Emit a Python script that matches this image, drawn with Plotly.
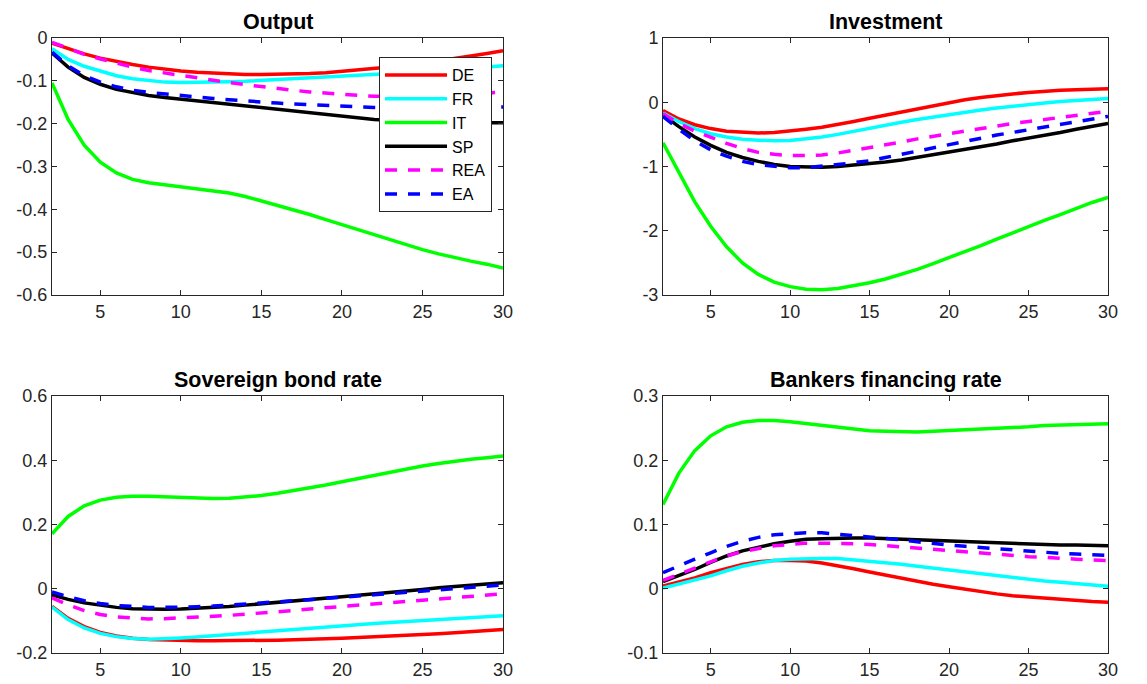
import plotly.graph_objects as go

periods = list(range(2, 31))
series_names = ["DE", "FR", "IT", "SP", "REA", "EA"]
colors = {"DE": "#ff0000", "FR": "#00ffff", "IT": "#00ff00", "SP": "#000000", "REA": "#ff00ff", "EA": "#0000ff"}
dashes = {"DE": "solid", "FR": "solid", "IT": "solid", "SP": "solid", "REA": "12px,11px", "EA": "12px,11px"}

titles = ["Output", "Investment", "Sovereign bond rate", "Bankers financing rate"]

# Output
out_DE = [-0.012, -0.025, -0.037, -0.047, -0.055, -0.062, -0.068, -0.073, -0.077, -0.080, -0.082, -0.084, -0.085, -0.085,
          -0.085, -0.084, -0.083, -0.081, -0.078, -0.075, -0.072, -0.068, -0.064, -0.059, -0.054, -0.048, -0.042, -0.036, -0.030]
out_FR = [-0.025, -0.050, -0.066, -0.078, -0.088, -0.095, -0.100, -0.103, -0.104, -0.104, -0.103, -0.102, -0.101, -0.099,
          -0.098, -0.096, -0.094, -0.092, -0.090, -0.088, -0.086, -0.084, -0.081, -0.079, -0.077, -0.074, -0.071, -0.068, -0.065]
out_IT = [-0.105, -0.190, -0.250, -0.290, -0.315, -0.330, -0.338, -0.343, -0.347, -0.351, -0.356, -0.362, -0.370, -0.380,
          -0.390, -0.400, -0.412, -0.424, -0.436, -0.448, -0.460, -0.472, -0.483, -0.494, -0.504, -0.513, -0.521, -0.528, -0.537]
out_SP = [-0.035, -0.068, -0.092, -0.108, -0.120, -0.128, -0.134, -0.139, -0.143, -0.147, -0.151, -0.155, -0.159, -0.163,
          -0.167, -0.171, -0.175, -0.179, -0.183, -0.187, -0.190, -0.192, -0.194, -0.196, -0.197, -0.198, -0.198, -0.198, -0.198]
out_REA = [-0.010, -0.025, -0.038, -0.049, -0.059, -0.068, -0.076, -0.082, -0.088, -0.094, -0.099, -0.104, -0.109, -0.114,
           -0.118, -0.122, -0.126, -0.129, -0.132, -0.134, -0.136, -0.137, -0.137, -0.137, -0.136, -0.134, -0.132, -0.129, -0.126]
out_EA = [-0.033, -0.065, -0.088, -0.103, -0.114, -0.122, -0.127, -0.131, -0.135, -0.138, -0.141, -0.144, -0.147, -0.150,
          -0.152, -0.154, -0.156, -0.158, -0.160, -0.161, -0.162, -0.163, -0.164, -0.164, -0.164, -0.164, -0.163, -0.162, -0.161]

# Investment
inv_DE = [-0.13, -0.26, -0.35, -0.41, -0.45, -0.47, -0.48, -0.47, -0.45, -0.42, -0.39, -0.35, -0.30, -0.25,
          -0.20, -0.15, -0.10, -0.05, 0.00, 0.04, 0.075, 0.105, 0.13, 0.15, 0.17, 0.185, 0.195, 0.205, 0.21]
inv_FR = [-0.17, -0.30, -0.41, -0.49, -0.54, -0.575, -0.59, -0.60, -0.595, -0.57, -0.54, -0.50, -0.45, -0.40,
          -0.36, -0.31, -0.27, -0.23, -0.19, -0.15, -0.12, -0.09, -0.06, -0.03, -0.01, 0.01, 0.03, 0.045, 0.06]
inv_IT = [-0.63, -1.10, -1.55, -1.93, -2.25, -2.50, -2.68, -2.80, -2.87, -2.91, -2.92, -2.90, -2.86, -2.81,
          -2.75, -2.68, -2.60, -2.51, -2.42, -2.32, -2.23, -2.13, -2.03, -1.94, -1.84, -1.75, -1.65, -1.56, -1.48]
inv_SP = [-0.20, -0.38, -0.54, -0.67, -0.78, -0.86, -0.92, -0.97, -1.00, -1.01, -1.01, -1.00, -0.98, -0.96,
          -0.93, -0.90, -0.86, -0.82, -0.78, -0.74, -0.70, -0.65, -0.60, -0.56, -0.51, -0.47, -0.42, -0.37, -0.33]
inv_REA = [-0.18, -0.33, -0.45, -0.55, -0.64, -0.72, -0.78, -0.81, -0.83, -0.83, -0.82, -0.79, -0.75, -0.71,
           -0.66, -0.62, -0.57, -0.53, -0.48, -0.44, -0.40, -0.37, -0.33, -0.30, -0.27, -0.23, -0.20, -0.17, -0.14]
inv_EA = [-0.22, -0.42, -0.60, -0.74, -0.84, -0.92, -0.97, -1.00, -1.02, -1.02, -1.00, -0.97, -0.94, -0.91,
          -0.86, -0.81, -0.75, -0.70, -0.65, -0.60, -0.56, -0.51, -0.47, -0.43, -0.39, -0.35, -0.30, -0.26, -0.22]

# Sovereign bond rate
sov_DE = [-0.055, -0.092, -0.118, -0.136, -0.147, -0.154, -0.158, -0.160, -0.161, -0.162, -0.162, -0.162, -0.161, -0.161,
          -0.160, -0.159, -0.158, -0.156, -0.154, -0.152, -0.150, -0.148, -0.145, -0.143, -0.140, -0.137, -0.134, -0.131, -0.127]
sov_FR = [-0.057, -0.096, -0.122, -0.139, -0.149, -0.155, -0.157, -0.156, -0.153, -0.150, -0.146, -0.142, -0.138, -0.134,
          -0.130, -0.126, -0.122, -0.118, -0.114, -0.111, -0.108, -0.105, -0.102, -0.099, -0.096, -0.093, -0.090, -0.087, -0.084]
sov_IT = [0.171, 0.225, 0.258, 0.276, 0.285, 0.288, 0.288, 0.286, 0.284, 0.282, 0.281, 0.282, 0.285, 0.290,
          0.297, 0.305, 0.314, 0.323, 0.333, 0.343, 0.353, 0.363, 0.373, 0.382, 0.390, 0.397, 0.403, 0.408, 0.413]
sov_SP = [-0.019, -0.033, -0.044, -0.052, -0.058, -0.062, -0.064, -0.064, -0.063, -0.061, -0.058, -0.055, -0.051, -0.047,
          -0.043, -0.038, -0.034, -0.029, -0.025, -0.020, -0.016, -0.011, -0.007, -0.002, 0.003, 0.007, 0.011, 0.015, 0.019]
sov_REA = [-0.028, -0.050, -0.068, -0.080, -0.088, -0.092, -0.094, -0.093, -0.091, -0.089, -0.086, -0.083, -0.079, -0.076,
           -0.072, -0.068, -0.063, -0.059, -0.055, -0.051, -0.047, -0.043, -0.040, -0.036, -0.032, -0.028, -0.024, -0.020, -0.016]
sov_EA = [-0.010, -0.025, -0.037, -0.046, -0.052, -0.056, -0.058, -0.058, -0.058, -0.056, -0.054, -0.051, -0.048, -0.045,
          -0.042, -0.038, -0.034, -0.030, -0.027, -0.023, -0.019, -0.015, -0.011, -0.008, -0.004, 0.000, 0.004, 0.008, 0.012]

# Bankers financing rate
bank_DE = [0.004, 0.010, 0.017, 0.025, 0.032, 0.038, 0.042, 0.044, 0.044, 0.043, 0.040, 0.036, 0.031, 0.026,
           0.021, 0.016, 0.011, 0.007, 0.003, -0.001, -0.005, -0.008, -0.011, -0.013, -0.015, -0.017, -0.019, -0.020, -0.021]
bank_FR = [0.001, 0.007, 0.013, 0.020, 0.028, 0.035, 0.040, 0.044, 0.046, 0.047, 0.047, 0.047, 0.045, 0.043,
           0.041, 0.038, 0.035, 0.032, 0.029, 0.026, 0.023, 0.020, 0.017, 0.015, 0.012, 0.010, 0.008, 0.006, 0.004]
bank_IT = [0.131, 0.180, 0.215, 0.238, 0.252, 0.259, 0.262, 0.262, 0.260, 0.257, 0.254, 0.251, 0.248, 0.246,
           0.245, 0.244, 0.244, 0.245, 0.246, 0.247, 0.248, 0.250, 0.251, 0.252, 0.254, 0.255, 0.256, 0.257, 0.257]
bank_SP = [0.011, 0.020, 0.030, 0.041, 0.051, 0.059, 0.065, 0.070, 0.074, 0.077, 0.078, 0.079, 0.079, 0.079,
           0.078, 0.077, 0.076, 0.075, 0.074, 0.073, 0.072, 0.071, 0.070, 0.070, 0.069, 0.068, 0.068, 0.067, 0.067]
bank_REA = [0.013, 0.022, 0.032, 0.042, 0.051, 0.058, 0.063, 0.067, 0.069, 0.071, 0.071, 0.071, 0.070, 0.069,
            0.067, 0.066, 0.064, 0.062, 0.060, 0.058, 0.056, 0.054, 0.052, 0.050, 0.049, 0.047, 0.046, 0.045, 0.044]
bank_EA = [0.025, 0.036, 0.046, 0.056, 0.066, 0.074, 0.080, 0.084, 0.086, 0.087, 0.087, 0.085, 0.083, 0.081,
           0.078, 0.076, 0.073, 0.070, 0.068, 0.066, 0.064, 0.062, 0.060, 0.058, 0.057, 0.055, 0.054, 0.053, 0.052]

panels = [
    {"DE": out_DE, "FR": out_FR, "IT": out_IT, "SP": out_SP, "REA": out_REA, "EA": out_EA},
    {"DE": inv_DE, "FR": inv_FR, "IT": inv_IT, "SP": inv_SP, "REA": inv_REA, "EA": inv_EA},
    {"DE": sov_DE, "FR": sov_FR, "IT": sov_IT, "SP": sov_SP, "REA": sov_REA, "EA": sov_EA},
    {"DE": bank_DE, "FR": bank_FR, "IT": bank_IT, "SP": bank_SP, "REA": bank_REA, "EA": bank_EA},
]
y_ranges = [[-0.6, 0], [-3, 1], [-0.2, 0.6], [-0.1, 0.3]]
y_tickvals = [
    [0, -0.1, -0.2, -0.3, -0.4, -0.5, -0.6],
    [1, 0, -1, -2, -3],
    [0.6, 0.4, 0.2, 0, -0.2],
    [0.3, 0.2, 0.1, 0, -0.1],
]
y_ticktext = [
    ["0", "-0.1", "-0.2", "-0.3", "-0.4", "-0.5", "-0.6"],
    ["1", "0", "-1", "-2", "-3"],
    ["0.6", "0.4", "0.2", "0", "-0.2"],
    ["0.3", "0.2", "0.1", "0", "-0.1"],
]
x_ticks = [5, 10, 15, 20, 25, 30]
x_ticktext = ["5", "10", "15", "20", "25", "30"]

W, H = 1147, 684
x_domains = [[52 / W, 503 / W], [663 / W, 1108 / W]]
y_domains = [[1 - 295 / H, 1 - 38 / H], [1 - 653 / H, 1 - 396 / H]]

fig = go.Figure()
font_family = "Liberation Sans, Arial, Helvetica, sans-serif"
axis_color = "#262626"

for i, data in enumerate(panels):
    ax = "" if i == 0 else str(i + 1)
    for name in series_names:
        fig.add_trace(go.Scatter(
            x=periods, y=data[name], mode="lines", name=name,
            line=dict(color=colors[name], width=3.5, dash=dashes[name]),
            xaxis="x" + ax, yaxis="y" + ax,
            legendgroup=name, showlegend=(i == 0),
        ))
    row, col = divmod(i, 2)
    common = dict(showline=True, linecolor=axis_color, linewidth=1, mirror="allticks",
                  ticks="inside", ticklen=5, tickcolor=axis_color, showgrid=False, zeroline=False,
                  automargin=False,
                  tickfont=dict(family=font_family, size=18, color=axis_color))
    fig.update_layout(**{
        "xaxis" + ax: dict(domain=x_domains[col], range=[2, 30], tickvals=x_ticks, ticktext=x_ticktext,
                           anchor="y" + ax, **common),
        "yaxis" + ax: dict(domain=y_domains[row], range=y_ranges[i], tickvals=y_tickvals[i],
                           ticktext=y_ticktext[i], anchor="x" + ax, **common),
    })
    xc = (x_domains[col][0] + x_domains[col][1]) / 2
    fig.add_annotation(text="<b>" + titles[i] + "</b>", x=xc, y=y_domains[row][1], xref="paper", yref="paper",
                       xanchor="center", yanchor="bottom", yshift=2, showarrow=False,
                       font=dict(family=font_family, size=21.5, color="#000000"))

fig.update_layout(
    width=W, height=H, margin=dict(l=0, r=0, t=0, b=0, pad=0, autoexpand=False),
    paper_bgcolor="white", plot_bgcolor="white",
    showlegend=True,
    legend=dict(x=379 / W, y=1 - 57 / H, xanchor="left", yanchor="top",
                bgcolor="white", bordercolor=axis_color, borderwidth=1,
                font=dict(family=font_family, size=16, color="#000000"),
                tracegroupgap=0, itemwidth=62),
)

fig.write_html("out.html", config={"displayModeBar": False},
               post_script="document.body.style.margin='0';document.body.style.overflow='hidden';")
